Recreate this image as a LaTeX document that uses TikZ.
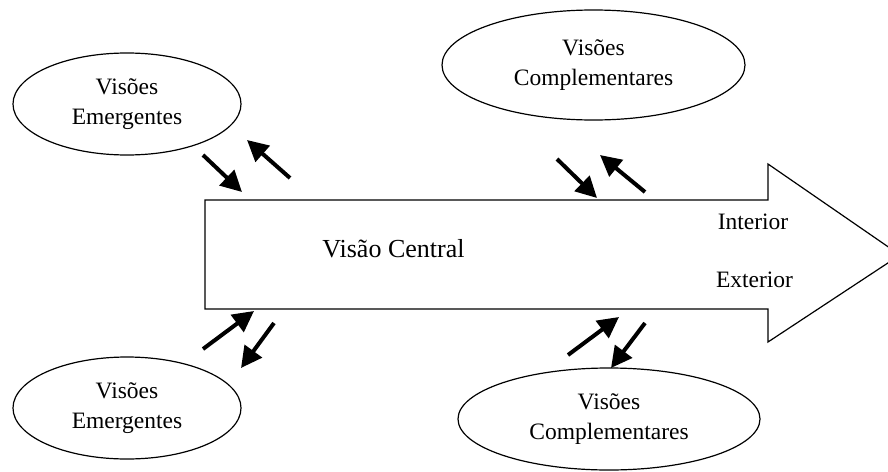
\documentclass[tikz,border=0pt]{standalone}
\usepackage{fontspec}
\setmainfont{Liberation Serif}
\usetikzlibrary{arrows.meta,shapes.geometric}
\begin{document}
\begin{tikzpicture}[x=1pt,y=-1pt,
  view/.style={draw,ellipse,line width=1.2pt,inner sep=0pt,align=center,
    font=\fontsize{23.5}{30}\selectfont},
  flow/.style={line width=4pt,-{Triangle[length=21pt,width=21pt]}},
  txt/.style={anchor=base,inner sep=0pt}]
\useasboundingbox (0,0) rectangle (888,471);
% central arrow
\draw[line width=1.2pt,line join=miter]
  (205,200) -- (768,200) -- (768,164) -- (900,255) -- (768,342)
  -- (768,309) -- (205,309) -- cycle;
\node[txt,font=\fontsize{26}{30}\selectfont] (central) at (393.5,257) {Visão Central};
\node[txt,font=\fontsize{23.5}{30}\selectfont] (interior) at (753,229) {Interior};
\node[txt,font=\fontsize{23.5}{30}\selectfont] (exterior) at (754.5,287) {Exterior};
% surrounding views
\node[view,minimum width=228pt,minimum height=102pt] (emtop) at (127,104) {Visões\\Emergentes};
\node[view,minimum width=303pt,minimum height=110pt] (comptop) at (593.5,65) {Visões\\Complementares};
\node[view,minimum width=228pt,minimum height=102pt] (embot) at (127,408) {Visões\\Emergentes};
\node[view,minimum width=302pt,minimum height=102pt] (compbot) at (609,419) {Visões\\Complementares};
% exchange arrows
\coordinate (a1s) at (203,155); \coordinate (a1e) at (242,192);
\coordinate (a2s) at (290,178); \coordinate (a2e) at (247,140);
\coordinate (b1s) at (557,159); \coordinate (b1e) at (597,198);
\coordinate (b2s) at (645,192); \coordinate (b2e) at (600,155);
\coordinate (c1s) at (203,349); \coordinate (c1e) at (254,311);
\coordinate (c2s) at (274,323); \coordinate (c2e) at (241,368);
\coordinate (d1s) at (568,355); \coordinate (d1e) at (619,317);
\coordinate (d2s) at (645,323); \coordinate (d2e) at (611,368);
\foreach \p in {a1,a2,b1,b2,c1,c2,d1,d2}
  \draw[flow] (\p s) -- (\p e);
\end{tikzpicture}
\end{document}
